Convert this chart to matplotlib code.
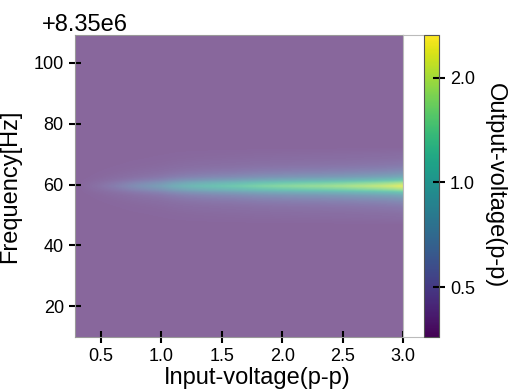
import numpy as np
import matplotlib
matplotlib.use("Agg")
import matplotlib.pyplot as plt
from matplotlib.colors import LogNorm
from matplotlib.cm import ScalarMappable
from matplotlib.ticker import FixedLocator, FormatStrFormatter, NullLocator

plt.rcParams["font.family"] = ["Liberation Sans", "DejaVu Sans"]

# input voltage (p-p) columns
input_voltage = [0.3, 0.4, 0.5, 0.6, 0.7, 0.8, 0.9, 1.0, 1.1, 1.2, 1.3, 1.4, 1.5, 1.6,
                 1.7, 1.8, 1.9, 2.0, 2.1, 2.2, 2.3, 2.4, 2.5, 2.6, 2.7, 2.8, 2.9, 3.0]
# output voltage at the resonance, per input voltage
peak_output = [0.40, 0.42, 0.45, 0.49, 0.54, 0.60, 0.66, 0.73, 0.85, 0.95, 1.03, 1.10,
               1.16, 1.22, 1.30, 1.38, 1.44, 1.50, 1.55, 1.60, 1.64, 1.70, 1.76, 1.84,
               1.92, 2.02, 2.15, 2.35]
background = 0.40

# frequency rows (Hz, offset +8.35e6)
freq_lo, freq_hi = 10, 109
resonance = 59
# relative line shape around the resonance, offsets -12 .. +12 Hz
line_offset = list(range(-12, 13))
line_shape = [0.005, 0.01, 0.015, 0.02, 0.03, 0.04, 0.06, 0.09, 0.14, 0.22, 0.40, 0.75, 1.0,
              0.75, 0.40, 0.22, 0.14, 0.09, 0.06, 0.04, 0.03, 0.02, 0.015, 0.01, 0.005]

n_rows = freq_hi - freq_lo
profile = np.zeros(n_rows)
for off, s in zip(line_offset, line_shape):
    profile[resonance + off - freq_lo] = s
output = background + np.outer(profile, np.array(peak_output) - background)

norm = LogNorm(vmin=0.36, vmax=2.65)
cmap = plt.get_cmap("viridis")

fig = plt.figure(figsize=(5.17, 3.90), dpi=100)
ax = fig.add_axes([0.145, 0.136, 0.6345, 0.774])
dx = 0.05
ax.imshow(output, origin="lower", aspect="auto", cmap=cmap, norm=norm, alpha=0.65,
          interpolation="bilinear",
          extent=[input_voltage[0] - dx, input_voltage[-1] + dx,
                  freq_lo + 8.35e6, freq_hi + 8.35e6])
ax.set_xlim(0.285, 2.99)
ax.set_ylim(10 + 8.35e6, 109 + 8.35e6)
ax.set_xticks([0.5, 1.0, 1.5, 2.0, 2.5, 3.0])
ax.set_yticks([v + 8.35e6 for v in [20, 40, 60, 80, 100]])
ax.ticklabel_format(axis="y", useOffset=8.35e6, style="plain")
off_text = ax.yaxis.get_offset_text()
off_text.set_fontsize(17)
off_text.set_x(-0.1)
ax.tick_params(direction="inout", length=9, width=1.5, labelsize=13)
for sp in ax.spines.values():
    sp.set_color("#999999")
ax.set_xlabel("Input-voltage(p-p)", fontsize=17)
ax.xaxis.set_label_coords(0.555, -0.1)
ax.set_ylabel("Frequency[Hz]", fontsize=17)
ax.yaxis.set_label_coords(-0.165, 0.5)

# white strip in front of the colorbar
box = fig.add_axes([0.7795, 0.136, 0.0696, 0.774])
box.set_xticks([])
box.set_yticks([])
for sp in box.spines.values():
    sp.set_color("#bbbbbb")

cax = fig.add_axes([0.820, 0.136, 0.029, 0.774])
cb = fig.colorbar(ScalarMappable(norm=norm, cmap=cmap), cax=cax)
cb.ax.yaxis.set_major_locator(FixedLocator([0.5, 1.0, 2.0]))
cb.ax.yaxis.set_major_formatter(FormatStrFormatter("%.1f"))
cb.ax.yaxis.set_minor_locator(NullLocator())
cb.ax.tick_params(direction="inout", length=9, width=1.5, labelsize=13)
cb.outline.set_edgecolor("#555555")
cb.set_label("Output-voltage(p-p)", fontsize=17, rotation=270, labelpad=22)

fig.savefig("out.png", dpi=100)
